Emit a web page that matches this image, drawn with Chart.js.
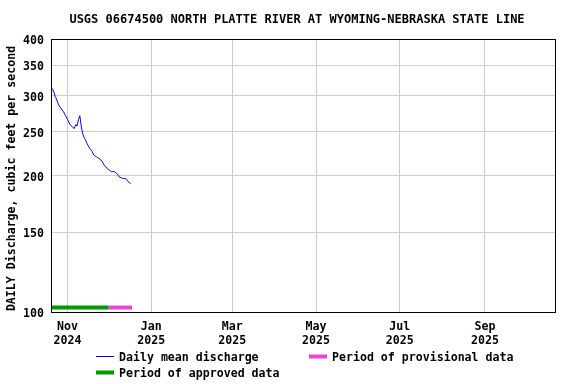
<!DOCTYPE html>
<html>
<head>
<meta charset="utf-8">
<script src="https://cdn.jsdelivr.net/npm/chart.js@4/dist/chart.umd.min.js"></script>
<style>
    html, body { margin: 0; padding: 0; background: #fff; }
</style>
</head>
<body>
<canvas id="flow-chart" width="576" height="384"></canvas>
<script>
// site + series
const chartTitle = 'USGS 06674500 NORTH PLATTE RIVER AT WYOMING-NEBRASKA STATE LINE';
const yAxisTitle = 'DAILY Discharge, cubic feet per second';

// daily mean discharge, cfs, one value per day starting at firstDay
const firstDay = '2024-10-21';
const flow = [311, 306, 299, 295, 289, 285, 282, 279, 277, 273,
              270, 266, 262, 259, 257, 255, 254, 259, 257, 266,
              271, 257, 248, 243, 240, 236, 233, 230, 228, 226,
              222, 221, 220, 219, 218, 217, 215, 213, 210, 209,
              207, 206, 205, 204, 204, 204, 203, 202, 200, 198,
              198, 197, 197, 197, 196, 194, 193, 192];

// approval periods
const approvedPeriod = ['2024-10-20', '2024-12-01'];
const provisionalPeriod = ['2024-12-01', '2024-12-18'];

// axes
const xRange = ['2024-10-20', '2025-10-22'];
const monthTicks = ['2024-11-01', '2025-01-01', '2025-03-01', '2025-05-01', '2025-07-01', '2025-09-01'];
const monthLabels = [['Nov', '2024'], ['Jan', '2025'], ['Mar', '2025'], ['May', '2025'], ['Jul', '2025'], ['Sep', '2025']];
const yTicks = [100, 150, 200, 250, 300, 350, 400];

const FONT = 'DejaVu Sans Mono';
const BLUE = '#0000ff', GREEN = '#009a00', PINK = '#ea44dc';

// days since 2024-11-01
function day(s) {
    return (Date.parse(s) - Date.parse('2024-11-01')) / 86400000;
}

let start = day(firstDay);
let flowPoints = flow.map((v, i) => ({ x: start + i, y: v }));
let barLevel = 102.3;

Chart.defaults.color = '#000';
Chart.defaults.font.family = FONT;
Chart.defaults.font.size = 11.6;
Chart.defaults.font.weight = 'bold';

const frameAndText = {
    id: 'frameAndText',
    afterDraw(chart) {
        const ctx = chart.ctx;
        const a = chart.chartArea;
        ctx.save();
        ctx.strokeStyle = '#000';
        ctx.lineWidth = 1;
        ctx.strokeRect(Math.round(a.left) + 0.5, Math.round(a.top) + 0.5,
                       Math.round(a.right - a.left), Math.round(a.bottom - a.top));

        ctx.fillStyle = '#000';
        ctx.textBaseline = 'middle';
        ctx.textAlign = 'center';
        ctx.font = 'bold 12px ' + FONT;
        ctx.fillText(chartTitle, 297, 20);

        // y axis title
        ctx.font = 'bold 11.6px ' + FONT;
        ctx.save();
        ctx.translate(12, 178.5);
        ctx.rotate(-Math.PI / 2);
        ctx.fillText(yAxisTitle, 0, 0);
        ctx.restore();

        // legend
        ctx.textAlign = 'left';
        let items = [
            { x: 96, y: 356, w: 1, color: BLUE, text: 'Daily mean discharge' },
            { x: 309, y: 356, w: 4, color: PINK, text: 'Period of provisional data' },
            { x: 96, y: 372, w: 4, color: GREEN, text: 'Period of approved data' }
        ];
        items.forEach(it => {
            ctx.strokeStyle = it.color;
            ctx.lineWidth = it.w;
            ctx.beginPath();
            ctx.moveTo(it.x, it.y + 0.5);
            ctx.lineTo(it.x + 18, it.y + 0.5);
            ctx.stroke();
            ctx.fillText(it.text, it.x + 23, it.y + 1.5);
        });
        ctx.restore();
    }
};

let chart_ele = document.getElementById('flow-chart').getContext('2d');

var chart = new Chart(chart_ele, {
    type: 'line',
    data: {
        datasets: [{
            label: 'Daily mean discharge',
            data: flowPoints,
            borderColor: BLUE,
            borderWidth: 1,
            pointRadius: 0,
            tension: 0
        }, {
            label: 'Period of provisional data',
            data: provisionalPeriod.map(d => ({ x: day(d), y: barLevel })),
            borderColor: PINK,
            borderWidth: 4,
            borderCapStyle: 'butt',
            pointRadius: 0
        }, {
            label: 'Period of approved data',
            data: approvedPeriod.map(d => ({ x: day(d), y: barLevel })),
            borderColor: GREEN,
            borderWidth: 4,
            borderCapStyle: 'butt',
            pointRadius: 0
        }]
    },
    options: {
        responsive: false,
        animation: false,
        layout: { padding: { top: 39, right: 21, bottom: 0, left: 0 } },
        plugins: {
            legend: { display: false },
            tooltip: { enabled: false }
        },
        scales: {
            x: {
                type: 'linear',
                min: day(xRange[0]),
                max: day(xRange[1]),
                afterBuildTicks: s => { s.ticks = monthTicks.map(d => ({ value: day(d) })); },
                afterFit: s => { s.height = 72; },
                grid: { color: '#cccccc', drawTicks: false },
                border: { color: '#000' },
                ticks: {
                    padding: 8,
                    maxRotation: 0,
                    autoSkip: false,
                    callback: (v) => {
                        let i = monthTicks.findIndex(d => day(d) === v);
                        return i >= 0 ? monthLabels[i] : '';
                    }
                }
            },
            y: {
                type: 'logarithmic',
                min: 100,
                max: 400,
                afterBuildTicks: s => { s.ticks = yTicks.map(v => ({ value: v })); },
                afterFit: s => { s.width = 51; },
                grid: { color: '#cccccc', drawTicks: false },
                border: { color: '#000' },
                ticks: {
                    padding: 7,
                    labelOffset: 2,
                    autoSkip: false,
                    callback: v => String(v)
                }
            }
        }
    },
    plugins: [frameAndText]
});
</script>
</body>
</html>
